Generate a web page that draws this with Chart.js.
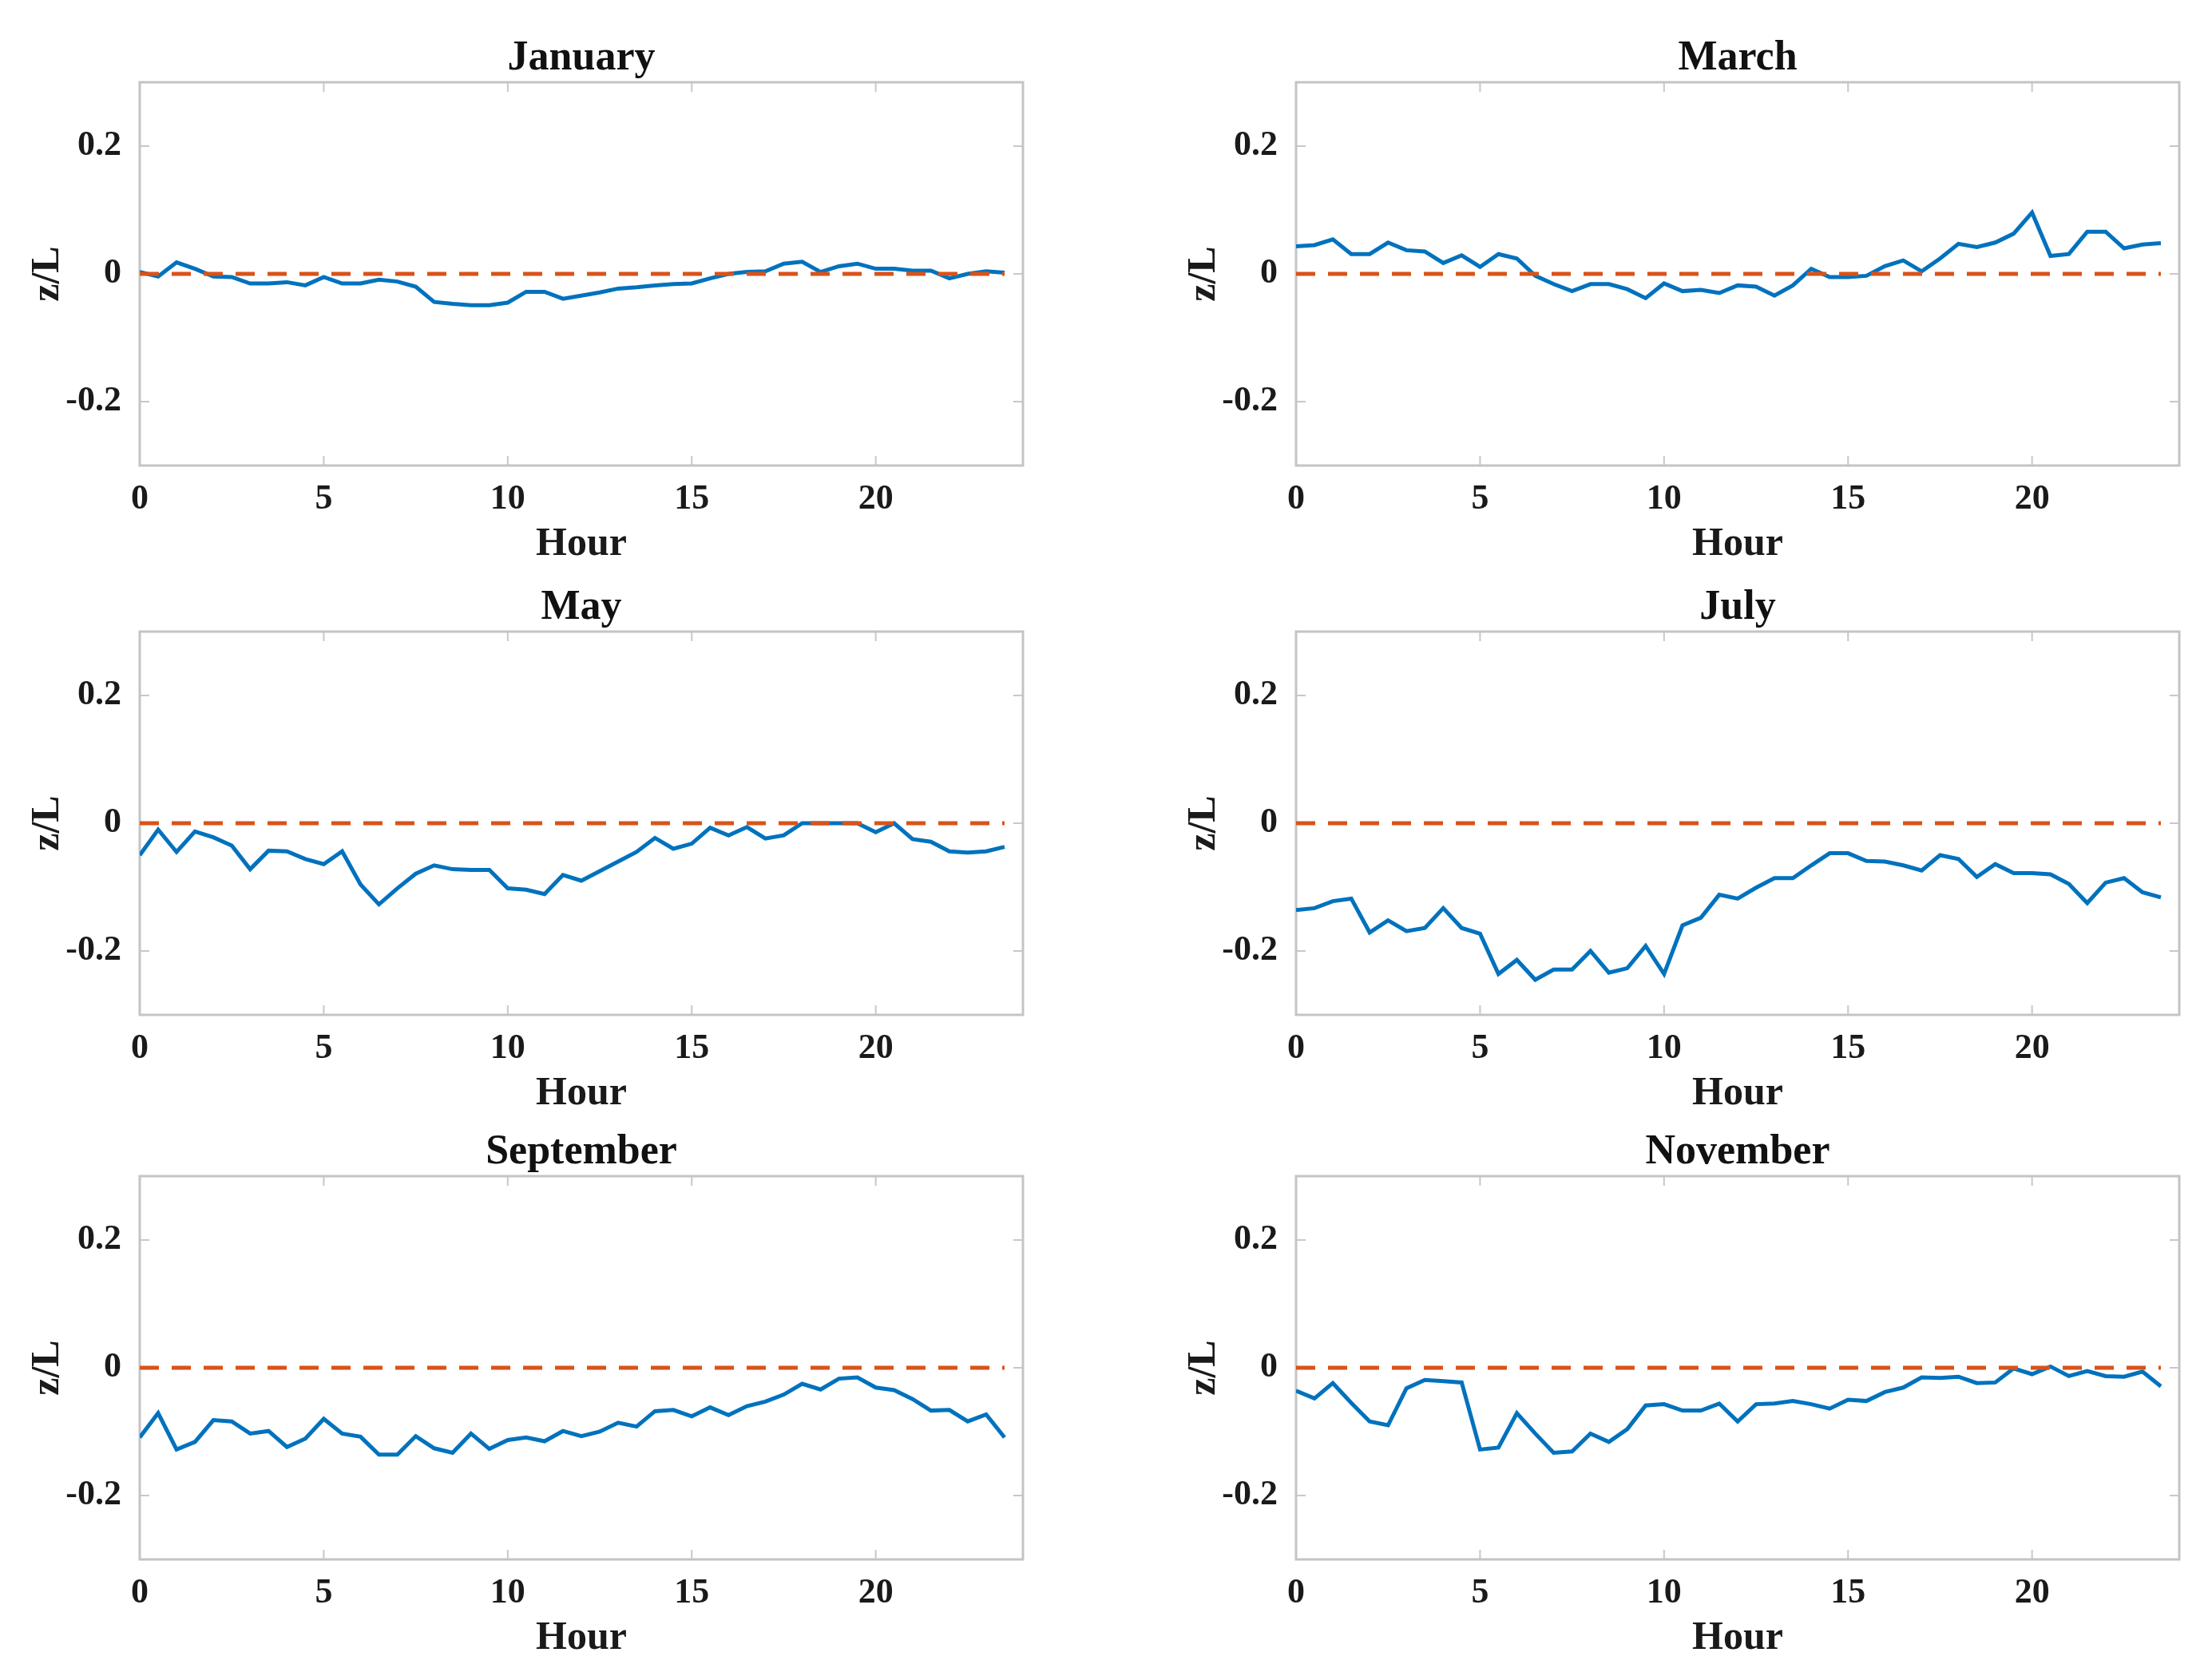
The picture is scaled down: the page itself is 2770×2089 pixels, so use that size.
<!DOCTYPE html>
<html>
<head>
<meta charset="utf-8">
<script src="https://cdn.jsdelivr.net/npm/chart.js@4.4.1/dist/chart.umd.min.js"></script>
<style>
  html, body { margin: 0; padding: 0; background: #fff; }
  body { width: 2770px; height: 2089px; position: relative; overflow: hidden; }
  .panel { position: absolute; }
</style>
</head>
<body>
<script>
// half-hourly diurnal z/L by month
const HOURS = [0, 0.5, 1, 1.5, 2, 2.5, 3, 3.5, 4, 4.5, 5, 5.5, 6, 6.5, 7, 7.5,
  8, 8.5, 9, 9.5, 10, 10.5, 11, 11.5, 12, 12.5, 13, 13.5, 14, 14.5, 15, 15.5,
  16, 16.5, 17, 17.5, 18, 18.5, 19, 19.5, 20, 20.5, 21, 21.5, 22, 22.5, 23, 23.5];

const JAN = [0.003, -0.004, 0.018, 0.008, -0.004, -0.005, -0.015, -0.015, -0.013, -0.018, -0.005, -0.015,
  -0.015, -0.009, -0.012, -0.02, -0.044, -0.047, -0.049, -0.049, -0.045, -0.028, -0.028, -0.039,
  -0.034, -0.029, -0.023, -0.021, -0.018, -0.016, -0.015, -0.007, 0, 0.003, 0.004, 0.016,
  0.019, 0.003, 0.012, 0.016, 0.008, 0.008, 0.005, 0.005, -0.007, 0, 0.004, 0.002];

const MAR = [0.043, 0.045, 0.054, 0.031, 0.031, 0.049, 0.037, 0.035, 0.017, 0.029, 0.011, 0.031,
  0.024, -0.003, -0.016, -0.027, -0.016, -0.016, -0.024, -0.038, -0.015, -0.027, -0.025, -0.03,
  -0.018, -0.02, -0.034, -0.018, 0.008, -0.005, -0.005, -0.003, 0.012, 0.021, 0.004, 0.024,
  0.047, 0.042, 0.049, 0.063, 0.096, 0.028, 0.031, 0.066, 0.066, 0.04, 0.046, 0.048];

const MAY = [-0.05, -0.01, -0.045, -0.013, -0.022, -0.035, -0.072, -0.043, -0.044, -0.056, -0.064, -0.044,
  -0.096, -0.127, -0.102, -0.079, -0.066, -0.072, -0.073, -0.073, -0.102, -0.104, -0.111, -0.081,
  -0.09, -0.075, -0.06, -0.045, -0.023, -0.04, -0.032, -0.007, -0.019, -0.006, -0.024, -0.019,
  0, 0, 0, 0, -0.014, 0, -0.025, -0.029, -0.044, -0.046, -0.044, -0.037];

const JUL = [-0.136, -0.133, -0.122, -0.118, -0.171, -0.152, -0.169, -0.164, -0.133, -0.164, -0.173, -0.236,
  -0.214, -0.245, -0.229, -0.229, -0.2, -0.234, -0.227, -0.192, -0.236, -0.16, -0.148, -0.112,
  -0.118, -0.101, -0.086, -0.086, -0.066, -0.047, -0.047, -0.059, -0.06, -0.066, -0.074, -0.05,
  -0.056, -0.084, -0.064, -0.078, -0.078, -0.08, -0.095, -0.125, -0.093, -0.086, -0.108, -0.116];

const SEP = [-0.109, -0.071, -0.128, -0.116, -0.082, -0.084, -0.103, -0.099, -0.124, -0.111, -0.08, -0.103,
  -0.108, -0.136, -0.136, -0.107, -0.126, -0.133, -0.103, -0.127, -0.113, -0.109, -0.115, -0.099,
  -0.107, -0.1, -0.086, -0.092, -0.068, -0.066, -0.076, -0.062, -0.074, -0.06, -0.053, -0.042,
  -0.025, -0.034, -0.017, -0.015, -0.031, -0.035, -0.049, -0.067, -0.066, -0.084, -0.073, -0.109];

const NOV = [-0.036, -0.048, -0.024, -0.055, -0.084, -0.09, -0.032, -0.019, -0.021, -0.023, -0.128, -0.125,
  -0.071, -0.103, -0.133, -0.131, -0.103, -0.116, -0.096, -0.059, -0.057, -0.067, -0.067, -0.056,
  -0.084, -0.057, -0.056, -0.052, -0.057, -0.064, -0.05, -0.052, -0.038, -0.031, -0.015, -0.016,
  -0.014, -0.024, -0.023, -0.001, -0.01, 0.002, -0.013, -0.005, -0.013, -0.014, -0.006, -0.029];

const X_TICKS = [0, 5, 10, 15, 20];
const X_TICK_LABELS = ['0', '5', '10', '15', '20'];
const Y_TICKS = [-0.2, 0, 0.2];
const Y_TICK_LABELS = ['-0.2', '0', '0.2'];

const PANELS = [
  { title: 'January', values: JAN },
  { title: 'March', values: MAR },
  { title: 'May', values: MAY },
  { title: 'July', values: JUL },
  { title: 'September', values: SEP },
  { title: 'November', values: NOV }
];

// layout (pixels)
const PLOT_LEFT = [175, 1623];
const PLOT_TOP = [103, 791, 1473];
const PLOT_W = 1106;
const PLOT_H = 480;
const Y_AXIS_W = 175;
const X_AXIS_H = 129;
const TITLE_H = 80;
const PAD_RIGHT = 10;

Chart.defaults.font.family = "'Liberation Serif', 'Times New Roman', serif";
Chart.defaults.font.weight = 'bold';
Chart.defaults.color = '#1a1a1a';

// box around the axes with inward tick marks, MATLAB style
const frame = {
  id: 'frame',
  beforeDatasetsDraw(chart) {
    const { ctx, chartArea: a, scales: { x, y } } = chart;
    ctx.save();
    ctx.strokeStyle = '#c8c8c8';
    ctx.lineWidth = 2;
    ctx.beginPath();
    x.ticks.forEach(t => {
      const px = x.getPixelForValue(t.value);
      ctx.moveTo(px, a.bottom); ctx.lineTo(px, a.bottom - 12);
      ctx.moveTo(px, a.top); ctx.lineTo(px, a.top + 12);
    });
    y.ticks.forEach(t => {
      const py = y.getPixelForValue(t.value);
      ctx.moveTo(a.left, py); ctx.lineTo(a.left + 12, py);
      ctx.moveTo(a.right, py); ctx.lineTo(a.right - 12, py);
    });
    ctx.stroke();
    ctx.lineWidth = 3;
    ctx.strokeStyle = '#c4c4c4';
    ctx.strokeRect(a.left, a.top, a.width, a.height);
    ctx.restore();
  }
};

function makePanel(p, i) {
  const col = i % 2, row = Math.floor(i / 2);
  const div = document.createElement('div');
  div.className = 'panel';
  div.style.left = (PLOT_LEFT[col] - Y_AXIS_W) + 'px';
  div.style.top = (PLOT_TOP[row] - TITLE_H) + 'px';
  div.style.width = (Y_AXIS_W + PLOT_W + PAD_RIGHT) + 'px';
  div.style.height = (TITLE_H + PLOT_H + X_AXIS_H) + 'px';
  const canvas = document.createElement('canvas');
  div.appendChild(canvas);
  document.body.appendChild(div);

  new Chart(canvas, {
    type: 'line',
    data: {
      datasets: [{
        label: 'zero',
        data: HOURS.map(h => ({ x: h, y: 0 })),
        borderColor: '#D95319',
        borderWidth: 5,
        borderDash: [24, 16],
        pointRadius: 0,
        tension: 0
      }, {
        label: p.title,
        data: HOURS.map((h, k) => ({ x: h, y: p.values[k] })),
        borderColor: '#0072BD',
        borderWidth: 5,
        pointRadius: 0,
        tension: 0
      }]
    },
    options: {
      responsive: true,
      maintainAspectRatio: false,
      animation: false,
      devicePixelRatio: 1,
      layout: { padding: { top: 0, right: PAD_RIGHT, bottom: 0, left: 0 } },
      plugins: {
        legend: { display: false },
        tooltip: { enabled: false },
        title: {
          display: true,
          fullSize: false,
          text: p.title,
          font: { size: 52, weight: 'bold', lineHeight: 1.1 },
          color: '#111',
          padding: { top: 22.4, bottom: 0.4 }
        }
      },
      scales: {
        x: {
          type: 'linear',
          min: 0,
          max: 24,
          grid: { display: false },
          border: { display: false },
          afterBuildTicks: s => { s.ticks = X_TICKS.map(v => ({ value: v })); },
          afterFit: s => { s.height = X_AXIS_H; },
          ticks: {
            padding: 8,
            maxRotation: 0,
            font: { size: 44, weight: 'bold', lineHeight: 1.2 },
            callback: (v) => X_TICK_LABELS[X_TICKS.indexOf(v)]
          },
          title: {
            display: true,
            text: 'Hour',
            font: { size: 50, weight: 'bold', lineHeight: 1.2 },
            padding: { top: 0, bottom: 0 }
          }
        },
        y: {
          type: 'linear',
          min: -0.3,
          max: 0.3,
          grid: { display: false },
          border: { display: false },
          afterBuildTicks: s => { s.ticks = Y_TICKS.map(v => ({ value: v })); },
          afterFit: s => { s.width = Y_AXIS_W; },
          ticks: {
            padding: 15,
            font: { size: 44, weight: 'bold', lineHeight: 1.2 },
            callback: (v) => Y_TICK_LABELS[Y_TICKS.indexOf(v)]
          },
          title: {
            display: true,
            text: 'z/L',
            font: { size: 50, weight: 'bold', lineHeight: 1.2 },
            padding: { top: 30, bottom: 0 }
          }
        }
      }
    },
    plugins: [frame]
  });
}

PANELS.forEach(makePanel);
</script>
</body>
</html>
